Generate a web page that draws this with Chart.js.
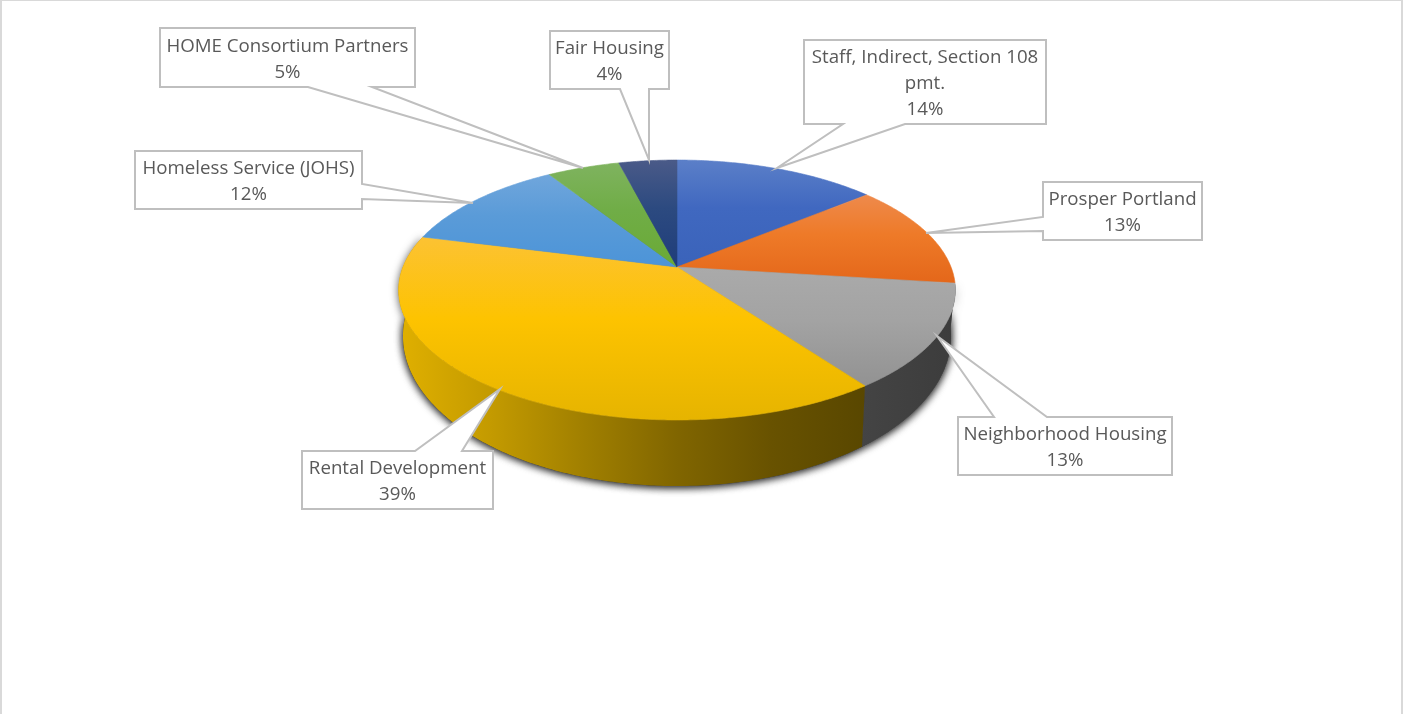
<!DOCTYPE html>
<html>
<head>
<meta charset="utf-8">
<style>
html,body{margin:0;padding:0;background:#fff;overflow:hidden}
#wrap{position:relative;width:1403px;height:714px}
#frame{position:absolute;left:0;top:0;width:1399px;height:713px;border-top:1px solid #d9d9d9;border-left:2px solid #d9d9d9;border-right:2px solid #d9d9d9;pointer-events:none}
</style>
</head>
<body>
<div id="wrap"><canvas id="c" width="1403" height="714"></canvas><div id="frame"></div></div>
<script src="https://cdn.jsdelivr.net/npm/chart.js@4"></script>
<script>
const categories = ['Staff, Indirect, Section 108 pmt.','Prosper Portland','Neighborhood Housing','Rental Development','Homeless Service (JOHS)','HOME Consortium Partners','Fair Housing'];
const shares = [14,13,13,39,12,5,4];

const baseColors  = ['#4068c0','#ee7a28','#a3a3a3','#fdc300','#5a9bd8','#70ad47','#2c4a80'];
const lightColors = ['#5b7fc8','#ee8a4c','#aaaaaa','#fcc233','#70a6dc','#7fb35f','#4a5a88'];
const darkColors  = ['#3a63ba','#e4671a','#929292','#e6b400','#4c94d8','#6aaa35','#1f3d7a'];
const wallColors  = [null,null,['#444444','#3c3c3c'],['#e0b000','#c39a00','#a07f00','#806500','#685200','#594700'],null,null,null];

const topDisc    = {cx:677,cy:267,rx:274,ry:125.9,p:0.177};
const bottomDisc = {cx:677,cy:309.5,rx:269.7,ry:145.3,p:0.177};

// box: [x0,y0,x1,y1]; pointer: two base points on the box edge, then the tip
const callouts = [
  {box:[804,40,1046,124],  ptr:[[843,124],[777,168],[905,124]]},
  {box:[1043,182,1202,240],ptr:[[1043,217],[926,233],[1043,231]]},
  {box:[958,417,1172,475], ptr:[[994,417],[937,336],[1047,417]]},
  {box:[302,451,493,509],  ptr:[[415,451],[500,389],[462,451]]},
  {box:[135,151,362,209],  ptr:[[362,184],[473,203],[362,199]]},
  {box:[160,28,415,87],    ptr:[[308,87],[583,168],[372,87]]},
  {box:[550,31,669,89],    ptr:[[620,89],[649,160],[649,89]]}
];
const labelFont = '18.7px "Open Sans"';
const labelColor = '#595959';
const lineStep = 26;
const textNudge = 2;

function proj(a,d){
  const u=Math.cos(a),v=Math.sin(a),w=1-d.p*v;
  return [d.cx+d.rx*u/w,d.cy+d.ry*v/w];
}
function rim(a0,a1,d){
  const n=Math.max(2,Math.ceil(Math.abs(a1-a0)/0.01)),pts=[];
  for(let i=0;i<=n;i++)pts.push(proj(a0+(a1-a0)*i/n,d));
  return pts;
}
function trace(ctx,pts){
  ctx.beginPath();
  pts.forEach((p,i)=>i?ctx.lineTo(p[0],p[1]):ctx.moveTo(p[0],p[1]));
  ctx.closePath();
}
function wrapLines(ctx,text,maxW){
  const lines=[];let cur='';
  text.split(' ').forEach(w=>{
    const t=cur?cur+' '+w:w;
    if(ctx.measureText(t).width>maxW&&cur){lines.push(cur);cur=w;}else cur=t;
  });
  if(cur)lines.push(cur);
  return lines;
}

const perspectivePie = {
  id:'perspectivePie',
  beforeDatasetDraw(chart,args){
    const ctx=chart.ctx,arcs=args.meta.data;
    const angles=arcs.map(el=>el.getProps(['startAngle','endAngle'],true));
    ctx.save();
    // soft shadow under the drum
    ctx.save();
    ctx.shadowColor='rgba(0,0,0,0.7)';ctx.shadowBlur=9;ctx.shadowOffsetY=1;
    ctx.fillStyle='#555';
    trace(ctx,rim(0,Math.PI*2,bottomDisc));ctx.fill();
    angles.forEach((an,i)=>{
      if(!wallColors[i])return;
      trace(ctx,rim(an.startAngle,an.endAngle,topDisc).concat(rim(an.endAngle,an.startAngle,bottomDisc)));
      ctx.fill();
    });
    ctx.restore();
    // side walls
    angles.forEach((an,i)=>{
      const stops=wallColors[i];if(!stops)return;
      const pts=rim(an.startAngle,an.endAngle,topDisc).concat(rim(an.endAngle,an.startAngle,bottomDisc));
      const xs=pts.map(p=>p[0]);
      const g=ctx.createLinearGradient(Math.min(...xs),0,Math.max(...xs),0);
      stops.forEach((c,k)=>g.addColorStop(k/(stops.length-1),c));
      ctx.fillStyle=g;trace(ctx,pts);ctx.fill();
    });
    // top face
    angles.forEach((an,i)=>{
      const pts=[[topDisc.cx,topDisc.cy]].concat(rim(an.startAngle,an.endAngle,topDisc));
      const ys=pts.map(p=>p[1]);
      const y0=Math.min(...ys),y1=Math.max(...ys);
      const g=ctx.createLinearGradient(0,y0,0,y1);
      g.addColorStop(0,lightColors[i]);
      g.addColorStop(0.45,baseColors[i]);
      g.addColorStop(1,darkColors[i]);
      ctx.fillStyle=g;ctx.strokeStyle=g;ctx.lineWidth=0.6;
      trace(ctx,pts);ctx.fill();ctx.stroke();
    });
    ctx.restore();
    return false;
  },
  afterDatasetsDraw(chart){
    const ctx=chart.ctx,vals=chart.data.datasets[0].data,total=vals.reduce((a,b)=>a+b,0);
    ctx.save();
    callouts.forEach((c,i)=>{
      const [x0,y0,x1,y1]=c.box;
      const [a,tip,b]=c.ptr;
      const ring=[[x0,y0],[x1,y0],[x1,y1],[x0,y1]];
      // insert the pointer on the side its base points lie on
      let side;
      if(a[1]===y0&&b[1]===y0)side=0;else if(a[0]===x1&&b[0]===x1)side=1;else if(a[1]===y1&&b[1]===y1)side=2;else side=3;
      let path;
      if(side===0)path=[ring[0],a,tip,b,ring[1],ring[2],ring[3]];
      else if(side===1)path=[ring[0],ring[1],a,tip,b,ring[2],ring[3]];
      else if(side===2)path=[ring[0],ring[1],ring[2],b,tip,a,ring[3]];
      else path=[ring[0],ring[1],ring[2],ring[3],b,tip,a];
      ctx.fillStyle='#ffffff';ctx.strokeStyle='#bfbfbf';ctx.lineWidth=2;ctx.lineJoin='miter';
      trace(ctx,path);ctx.fill();ctx.stroke();
      ctx.fillStyle=labelColor;ctx.font=labelFont;ctx.textAlign='center';ctx.textBaseline='middle';
      const lines=wrapLines(ctx,chart.data.labels[i],x1-x0-10);
      lines.push(Math.round(vals[i]/total*100)+'%');
      const mid=(y0+y1)/2,cx=(x0+x1)/2;
      lines.forEach((t,k)=>ctx.fillText(t,cx,mid+textNudge+(k-(lines.length-1)/2)*lineStep));
    });
    ctx.restore();
  }
};

new Chart(document.getElementById('c'),{
  type:'pie',
  data:{labels:categories,datasets:[{data:shares,backgroundColor:baseColors,borderWidth:0}]},
  options:{
    responsive:false,animation:false,devicePixelRatio:1,
    plugins:{legend:{display:false},tooltip:{enabled:false}}
  },
  plugins:[perspectivePie]
});
</script>
</body>
</html>
